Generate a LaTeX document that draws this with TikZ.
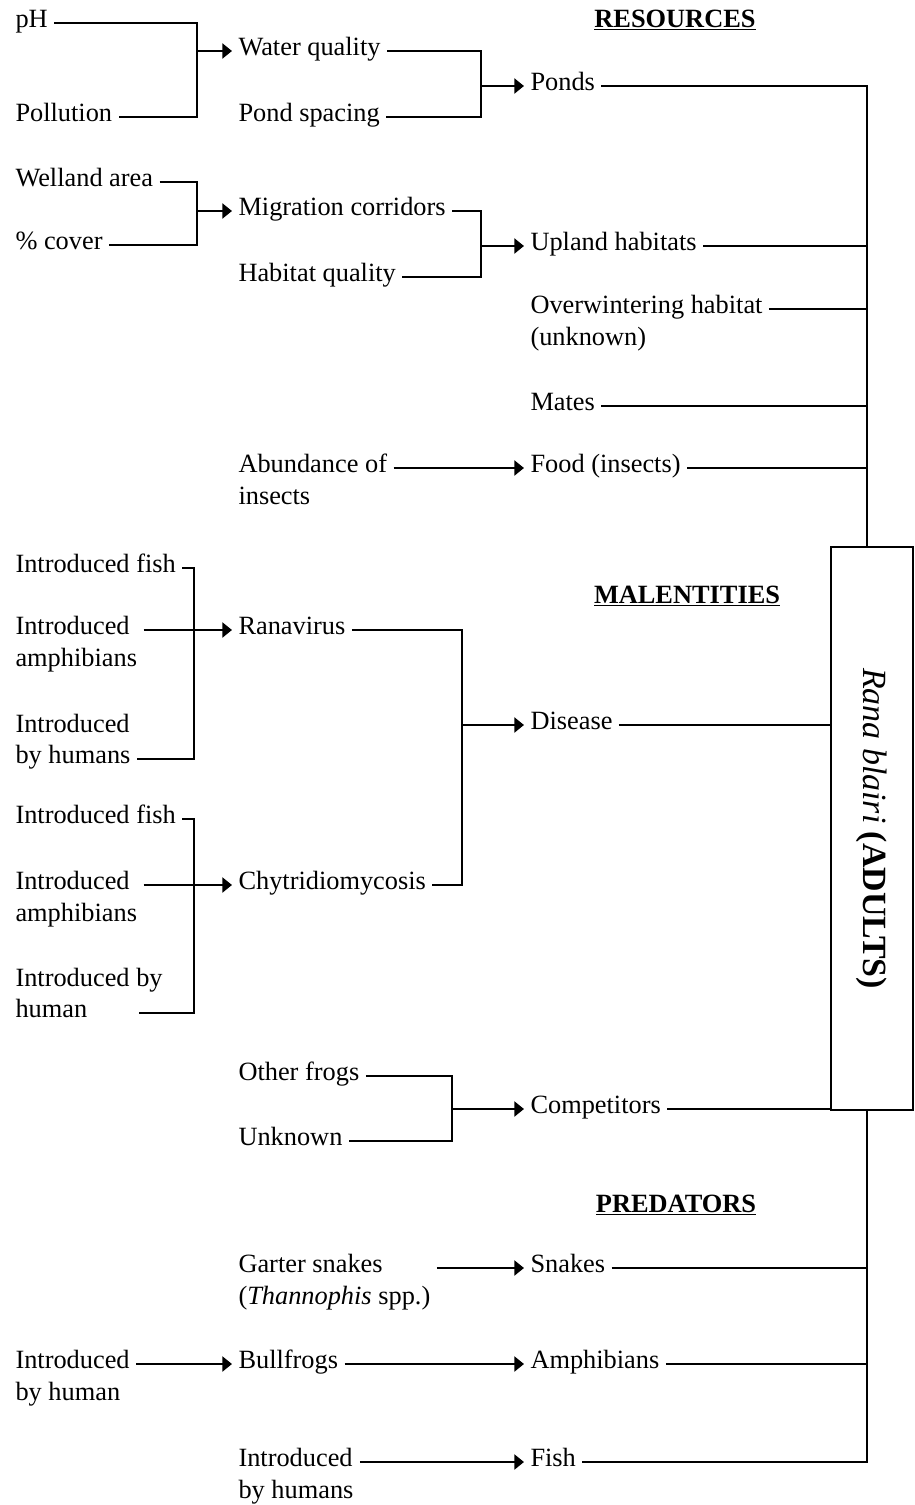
\documentclass[tikz,border=0pt]{standalone}
\usepackage{fontspec}
\setmainfont{Liberation Serif}
\usepackage{graphicx}
\usetikzlibrary{arrows.meta}
\usetikzlibrary{positioning}

% two lines, hung from the first one
\newcommand{\twoline}[2]{\vtop{\hbox{#1}\hbox{#2}}}

\begin{document}
\begin{tikzpicture}[
    x=0.02cm, y=-0.02cm,
    font=\fontsize{15}{18.1}\selectfont
]
\tikzset{
    txt/.style = {anchor=west, align=left, inner xsep=3.5pt, inner ysep=0pt, text height=0.8em, text depth=0.25em},
    head/.style = {anchor=base, font=\fontsize{15}{18.1}\selectfont\bfseries},
    frogbox/.style = {draw, line width=1.2pt, minimum width=1.64cm, minimum height=11.26cm, inner sep=0pt, font=\fontsize{19.3}{23}\selectfont},
    ln/.style = {line width=1.5pt},
    arr/.style = {-{Triangle[length=5.5pt,width=8.5pt]}, line width=1.5pt}
}
\useasboundingbox (0,0) rectangle (914,1505);

% headings
\node[head] (res) at (675,27) {\underline{RESOURCES}};
\node[head] (mal) at (687,603) {\underline{MALENTITIES}};
\node[head] (pred) at (676,1212) {\underline{PREDATORS}};

% the frog
\node[frogbox] (frog) at (872,828.5) {\rotatebox{-90}{\textit{Rana blairi} \textbf{(ADULTS)}}};
\coordinate (bus1) at (867,547);
\coordinate (bus2) at (867,1110);

% resources
\node[txt] (ph) at (9,23) {pH};
\node[txt] (poll) at (9,117) {Pollution};
\node[txt] (wel) at (9,182) {Welland area};
\node[txt] (cov) at (9,245) {\% cover};
\node[txt] (wq) at (232,51) {Water quality};
\node[txt] (ps) at (232,117) {Pond spacing};
\node[txt] (mig) at (232,211) {Migration corridors};
\node[txt] (hab) at (232,277) {Habitat quality};
\node[txt] (abund) at (232,468) {\twoline{Abundance of}{insects}};
\node[txt] (ponds) at (524,86) {Ponds};
\node[txt] (upl) at (524,246) {Upland habitats};
\node[txt] (over) at (524,309) {\twoline{Overwintering habitat}{(unknown)}};
\node[txt] (mates) at (524,406) {Mates};
\node[txt] (food) at (524,468) {Food (insects)};

\coordinate (j1) at (197,51);
\coordinate (j2) at (481,86);
\coordinate (j3) at (197,211);
\coordinate (j4) at (481,246);

\draw[ln] (ph) -| (j1) |- (poll);
\draw[arr] (j1) -- (wq);
\draw[ln] (wq) -| (j2) |- (ps);
\draw[arr] (j2) -- (ponds);
\draw[ln] (ponds) -| (bus1);
\draw[ln] (wel) -| (j3) |- (cov);
\draw[arr] (j3) -- (mig);
\draw[ln] (mig) -| (j4) |- (hab);
\draw[arr] (j4) -- (upl);
\draw[ln] (upl) -- (upl -| bus1);
\draw[ln] (over) -- (over -| bus1);
\draw[ln] (mates) -- (mates -| bus1);
\draw[arr] (abund) -- (food);
\draw[ln] (food) -- (food -| bus1);

% malentities
\node[txt] (ifA) at (9,568) {Introduced fish};
\node[txt] (iaA) at (9,630) {\twoline{Introduced}{amphibians}};
\node[txt] (ihA) at (9,759) {Introduced\\by humans};
\node[txt] (ifB) at (9,819) {Introduced fish};
\node[txt] (iaB) at (9,885) {\twoline{Introduced}{amphibians}};
\node[txt] (ihB) at (9,1013) {Introduced by\\human};
\node[txt] (rana) at (232,630) {Ranavirus};
\node[txt] (chy) at (232,885) {Chytridiomycosis};
\node[txt] (of) at (232,1076) {Other frogs};
\node[txt] (unk) at (232,1141) {Unknown};
\node[txt] (dis) at (524,725) {Disease};
\node[txt] (comp) at (524,1109) {Competitors};

\coordinate (j5) at (194,630);
\coordinate (j6) at (462,725);
\coordinate (j7) at (194,885);
\coordinate (j8) at (452,1109);

\draw[ln] (ifA) -| (j5) |- (ihA);
\draw[arr] (iaA) -- (rana);
\draw[ln, shorten >=-17pt] (ifB) -| (j7) |- (ihB);
\draw[arr] (iaB) -- (chy);
\draw[ln] (rana) -| (j6) |- (chy);
\draw[arr] (j6) -- (dis);
\draw[ln] (dis) -- (dis -| frog.west);
\draw[ln] (of) -| (j8) |- (unk);
\draw[arr] (j8) -- (comp);
\draw[ln] (comp) -- (comp -| frog.west);

% predators
\node[txt] (gar) at (232,1268) {\twoline{Garter snakes}{(\textit{Thannophis} spp.)}};
\node[txt] (ihC) at (9,1364) {\twoline{Introduced}{by human}};
\node[txt] (bull) at (232,1364) {Bullfrogs};
\node[txt] (ihD) at (232,1462) {\twoline{Introduced}{by humans}};
\node[txt] (snk) at (524,1268) {Snakes};
\node[txt] (amph) at (524,1364) {Amphibians};
\node[txt] (fish) at (524,1462) {Fish};

\draw[arr] (gar) -- (snk);
\draw[ln] (snk) -- (snk -| bus2);
\draw[arr] (ihC) -- (bull);
\draw[arr] (bull) -- (amph);
\draw[ln] (amph) -- (amph -| bus2);
\draw[arr] (ihD) -- (fish);
\draw[ln] (fish) -| (bus2);
\end{tikzpicture}
\end{document}
